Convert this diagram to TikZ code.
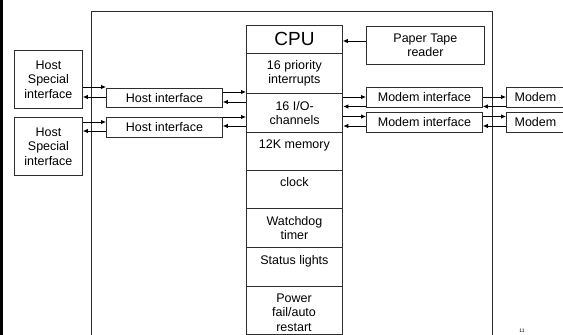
\documentclass[tikz,border=0pt]{standalone}
\usepackage{fontspec}
\setmainfont{Liberation Sans}
\usetikzlibrary{arrows.meta}
\definecolor{boxc}{RGB}{45,45,45}
\begin{document}
\begin{tikzpicture}[x=1pt,y=-1pt,
  box/.style={draw=boxc, line width=0.85pt, inner sep=0pt, align=center, anchor=north west,
    font=\fontsize{12.5}{14.5}\selectfont},
  frameline/.style={draw=boxc, line width=0.85pt},
  arr/.style={draw=black, line width=0.85pt, -{Latex[length=5pt,width=4.5pt]}},
  small/.style={font=\fontsize{5}{6}\selectfont, inner sep=0pt}]
\useasboundingbox (0,0) rectangle (563,335);
% left edge bar
\fill (0,0) rectangle (2.5,335);
% outer frame
\draw[frameline] (91,335) -- (91,11) -- (492,11) -- (492,335);
% CPU column
\node[box, minimum width=96pt, minimum height=28pt] (cpu) at (246,25) {\fontsize{19}{22}\selectfont CPU};
\node[box, minimum width=96pt, minimum height=40pt] (pri) at (246,53) {16 priority\\interrupts};
\node[box, minimum width=96pt, minimum height=39pt, line width=1.3pt] (io) at (246,93) {16 I/O-\\channels};
\node[box, minimum width=96pt, minimum height=38pt] (mem) at (246,132) {12K memory\\\mbox{}};
\node[box, minimum width=96pt, minimum height=38pt] (clk) at (246,170) {clock\\\mbox{}};
\node[box, minimum width=96pt, minimum height=39pt] (wd) at (246,208) {Watchdog\\timer};
\node[box, minimum width=96pt, minimum height=39pt] (st) at (246,247) {Status lights\\\mbox{}};
\node[box, minimum width=96pt, minimum height=48pt] (pw) at (246,286) {};
\node[align=center, inner sep=0pt, font=\fontsize{12.5}{14.5}\selectfont] (pwt) at (294,312.5) {Power\\fail/auto\\restart};
% paper tape
\node[box, minimum width=118pt, minimum height=38pt] (pt) at (366,26) {Paper Tape\\reader};
% host side
\node[box, minimum width=68pt, minimum height=58pt] (hs1) at (14,50) {Host\\Special\\interface};
\node[box, minimum width=68pt, minimum height=58pt] (hs2) at (14,117) {Host\\Special\\interface};
\node[box, minimum width=116pt, minimum height=19pt] (hi1) at (106,88) {Host interface};
\node[box, minimum width=116pt, minimum height=20pt] (hi2) at (106,117) {Host interface};
% modem side
\node[box, minimum width=116pt, minimum height=20pt] (mi1) at (366,87) {Modem interface};
\node[box, minimum width=116pt, minimum height=20pt] (mi2) at (366,112) {Modem interface};
\node[box, minimum width=58pt, minimum height=20pt] (m1) at (506,87) {Modem};
\node[box, minimum width=58pt, minimum height=20pt] (m2) at (506,112) {Modem};
% page number
\node[small] (pg) at (522,331) {11};
% row levels
\coordinate (y41) at (0,41);
\coordinate (y87) at (0,87);
\coordinate (y97) at (0,97);
\coordinate (y122) at (0,122);
\coordinate (y131) at (0,131);
\coordinate (y92) at (0,92);
\coordinate (y102) at (0,102);
\coordinate (y117) at (0,117);
\coordinate (y126) at (0,126);
\coordinate (y106) at (0,106.5);
\coordinate (y116) at (0,116.5);
% arrows
\draw[arr] (pt.west |- y41) -- (cpu.east |- y41);
\draw[arr] (hs1.east |- y87) -- (hi1.west |- y87);
\draw[arr] (hi1.west |- y97) -- (hs1.east |- y97);
\draw[arr] (hs2.east |- y122) -- (hi2.west |- y122);
\draw[arr] (hi2.west |- y131) -- (hs2.east |- y131);
\draw[arr] (hi1.east |- y92) -- (io.west |- y92);
\draw[arr] (io.west |- y102) -- (hi1.east |- y102);
\draw[arr] (hi2.east |- y117) -- (io.west |- y117);
\draw[arr] (io.west |- y126) -- (hi2.east |- y126);
\draw[arr] (io.east |- y97) -- (mi1.west |- y97);
\draw[arr] (mi1.west |- y106) -- (io.east |- y106);
\draw[arr] (io.east |- y116) -- (mi2.west |- y116);
\draw[arr] (mi2.west |- y126) -- (io.east |- y126);
\draw[arr] (mi1.east |- y97) -- (m1.west |- y97);
\draw[arr] (m1.west |- y106) -- (mi1.east |- y106);
\draw[arr] (mi2.east |- y116) -- (m2.west |- y116);
\draw[arr] (m2.west |- y126) -- (mi2.east |- y126);
\end{tikzpicture}
\end{document}
